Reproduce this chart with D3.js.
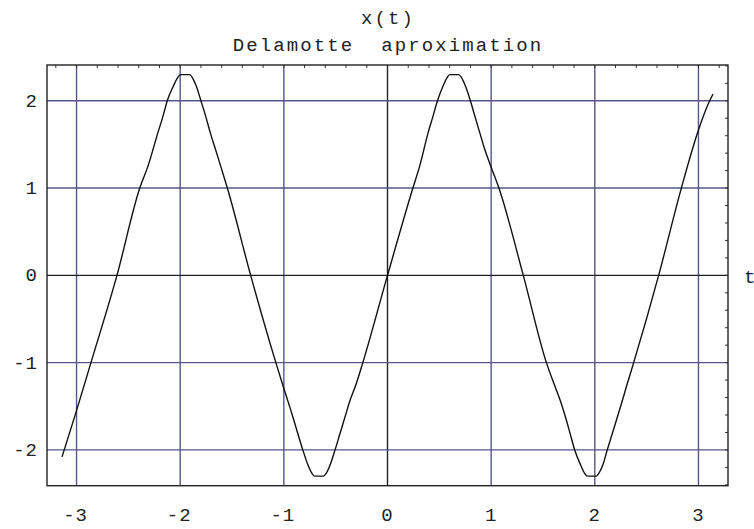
<!DOCTYPE html>
<html>
<head>
<meta charset="utf-8">
<script src="https://cdn.jsdelivr.net/npm/d3@7"></script>
<style>
  html, body { margin: 0; padding: 0; background: #fff; }
  svg { display: block; }
  text { font-family: "Liberation Mono", "DejaVu Sans Mono", monospace; fill: #222; white-space: pre; }
</style>
</head>
<body>
<svg id="chart" width="754" height="529"></svg>
<script>
// ---- data ----
const titleLines = ["x(t)", "Delamotte  aproximation"];
const xTicks = [-3, -2, -1, 0, 1, 2, 3];
const yTicks = [-2, -1, 0, 1, 2];
const xAxisLabel = "t";
const tValues = [
  -3.14, -3.0, -2.861, -2.61,
  -2.39, -2.31, -2.215, -2.165, -2.125, -2.065, -2.025, -1.997, -1.91, -1.883, -1.845, -1.80,
  -1.755, -1.71, -1.66, -1.61, -1.545, -1.32,
  -1.077, -1.0, -0.943, -0.91, -0.862, -0.817, -0.768, -0.73, -0.703, -0.617, -0.59, -0.553,
  -0.506, -0.462, -0.413, -0.365, -0.305, -0.238, 0.0,
  0.245, 0.311, 0.392, 0.44, 0.482, 0.536, 0.575, 0.60, 0.687, 0.714, 0.752, 0.80,
  0.842, 0.89, 0.938, 0.99, 1.075, 1.31,
  1.533, 1.61, 1.67, 1.72, 1.765, 1.806, 1.862, 1.90, 1.926, 2.014, 2.04, 2.078, 2.12,
  2.165, 2.215, 2.263, 2.31, 2.375, 2.616, 2.835, 3.0, 3.108, 3.14
];
const xValues = [
  -2.08, -1.55, -1.0, 0.0,
  1.0, 1.254, 1.635, 1.827, 2.0, 2.17, 2.266, 2.3, 2.3, 2.266, 2.17, 2.0,
  1.827, 1.635, 1.445, 1.254, 1.0, 0.0,
  -1.0, -1.296, -1.507, -1.635, -1.827, -2.0, -2.17, -2.266, -2.3, -2.3, -2.266, -2.17,
  -2.0, -1.827, -1.635, -1.445, -1.254, -1.0, 0.0,
  1.0, 1.254, 1.635, 1.827, 2.0, 2.17, 2.266, 2.3, 2.3, 2.266, 2.17, 2.0,
  1.827, 1.635, 1.445, 1.27, 1.0, 0.0,
  -1.0, -1.254, -1.445, -1.635, -1.827, -2.0, -2.17, -2.266, -2.3, -2.3, -2.266, -2.17, -2.0,
  -1.827, -1.635, -1.445, -1.254, -1.0, 0.0, 1.0, 1.666, 2.0, 2.076
];

// ---- layout ----
const svg = d3.select("#chart");
const mLeft = 47, mRight = 728, mTop = 65, mBottom = 485.7;
const x = d3.scaleLinear().domain([-3.285, 3.285]).range([mLeft, mRight]);
const y = d3.scaleLinear().domain([-2.41, 2.41]).range([mBottom, mTop]);

const gridColor = "#56568a";
const g = svg.append("g");

// grid lines
g.selectAll("line.vg").data(xTicks).enter().append("line")
  .attr("x1", d => x(d)).attr("x2", d => x(d))
  .attr("y1", mTop).attr("y2", mBottom)
  .attr("stroke", d => d === 0 ? "#222" : gridColor)
  .attr("stroke-width", 1.4);
g.selectAll("line.hg").data(yTicks).enter().append("line")
  .attr("y1", d => y(d)).attr("y2", d => y(d))
  .attr("x1", mLeft).attr("x2", mRight)
  .attr("stroke", d => d === 0 ? "#222" : gridColor)
  .attr("stroke-width", 1.4);

// minor ticks on top and right edges
const topTicks = d3.range(-16, 17).map(i => i * 0.2);
const rightTicks = d3.range(-12, 13).map(i => i * 0.2);
g.selectAll("line.tt").data(topTicks).enter().append("line")
  .attr("x1", d => x(d)).attr("x2", d => x(d))
  .attr("y1", mTop).attr("y2", mTop + 3)
  .attr("stroke", "#333").attr("stroke-width", 1);
g.selectAll("line.rt").data(rightTicks).enter().append("line")
  .attr("y1", d => y(d)).attr("y2", d => y(d))
  .attr("x1", mRight).attr("x2", mRight - 3)
  .attr("stroke", "#333").attr("stroke-width", 1);

// frame
g.append("rect")
  .attr("x", mLeft).attr("y", mTop)
  .attr("width", mRight - mLeft).attr("height", mBottom - mTop)
  .attr("fill", "none").attr("stroke", "#222").attr("stroke-width", 1.4);

// curve
const pts = tValues.map((t, i) => [t, xValues[i]]);
const line = d3.line().x(d => x(d[0])).y(d => y(d[1])).curve(d3.curveMonotoneX);
g.append("path").datum(pts)
  .attr("d", line)
  .attr("fill", "none").attr("stroke", "#111").attr("stroke-width", 1.4);

// tick labels
const fs = 19;
g.selectAll("text.xl").data(xTicks).enter().append("text")
  .attr("x", d => x(d) - (d < 0 ? 1 : 0)).attr("y", 521)
  .attr("text-anchor", "middle")
  .attr("font-size", fs)
  .style("letter-spacing", "1px")
  .text(d => d < 0 ? "-" + Math.abs(d) : String(d));
g.selectAll("text.yl").data(yTicks).enter().append("text")
  .attr("x", 38).attr("y", d => y(d) + 6)
  .attr("text-anchor", "end")
  .attr("font-size", fs)
  .style("letter-spacing", "1px")
  .text(d => d < 0 ? "-" + Math.abs(d) : String(d));

// axis label
svg.append("text").attr("x", 744).attr("y", 283)
  .attr("font-size", fs).text(xAxisLabel);

// title
svg.selectAll("text.title").data(titleLines).enter().append("text")
  .attr("x", 388).attr("y", (d, i) => 24 + i * 27)
  .attr("text-anchor", "middle")
  .attr("font-size", fs)
  .style("letter-spacing", "2.1px")
  .text(d => d);
</script>
</body>
</html>
